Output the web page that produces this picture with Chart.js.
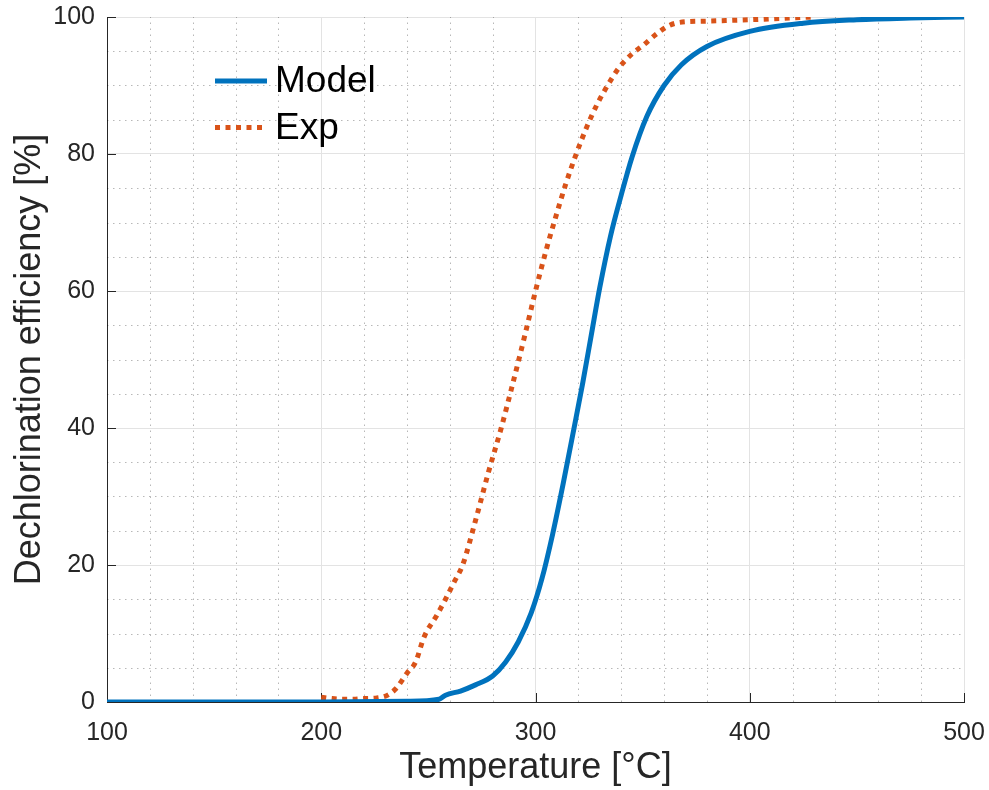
<!DOCTYPE html>
<html>
<head>
<meta charset="utf-8">
<script src="https://cdn.jsdelivr.net/npm/chart.js@4/dist/chart.umd.min.js"></script>
<style>
  html, body { margin: 0; padding: 0; background: #fff; }
  #wrap { width: 989px; height: 790px; }
</style>
</head>
<body>
<div id="wrap"><canvas id="chart-eff" width="989" height="790"></canvas></div>
<script>
// ── data ──
const modelTemp = [100, 150, 200, 240, 255, 258, 265, 272, 280, 286, 292, 298, 303, 308, 313, 318, 322, 326, 330, 335, 340, 345, 352, 360, 368, 380, 400, 425, 450, 475, 500];
const modelEff  = [0, 0, 0, 0.1, 0.4, 1.0, 1.6, 2.5, 3.8, 5.8, 8.8, 13, 18, 24.5, 32, 40, 46.5, 53.5, 60.5, 68, 74, 79.5, 85.5, 90, 93, 95.7, 97.9, 99.1, 99.6, 99.85, 100];

const expTemp = [200, 205, 210, 215, 220, 226, 231, 235, 240, 244, 248, 254, 258, 262, 266, 272, 278, 284, 289, 295, 300, 305, 310, 314, 319, 324, 329, 334, 339, 345, 350, 356, 362, 367, 380, 400, 415, 430];
const expEff  = [0.7, 0.5, 0.4, 0.4, 0.5, 0.6, 1.0, 2.0, 4.2, 5.8, 9.5, 12.7, 15, 17.5, 20, 26.5, 33.5, 40, 46, 53.5, 60, 66, 71.4, 75.5, 80, 84, 87.4, 90.2, 92.6, 94.6, 95.8, 97.4, 98.7, 99.2, 99.4, 99.6, 99.8, 100];

const seriesLabels = ['Model', 'Exp'];
const xTitle = 'Temperature [°C]';
const yTitle = 'Dechlorination efficiency [%]';

const FONT = '"Liberation Sans", Arial, Helvetica, sans-serif';
const AXIS_COLOR = '#262626';
const BLUE = '#0072BD';
const ORANGE = '#D95319';

function toPoints(xs, ys) {
  return xs.map((x, i) => ({ x: x, y: ys[i] }));
}

// dotted minor grid + inward tick marks, MATLAB style
const matlabGrid = {
  id: 'matlabGrid',
  beforeDatasetsDraw(chart) {
    const { ctx, chartArea: a, scales: { x, y } } = chart;
    ctx.save();
    ctx.strokeStyle = 'rgba(0,0,0,0.28)';
    ctx.lineWidth = 1;
    ctx.setLineDash([1.5, 4.5]);
    for (let v = x.min + 20; v < x.max; v += 20) {
      if (v % 100 === 0) continue;
      const px = Math.round(x.getPixelForValue(v)) + 0.5;
      ctx.beginPath(); ctx.moveTo(px, a.bottom); ctx.lineTo(px, a.top); ctx.stroke();
    }
    for (let v = y.min + 5; v < y.max; v += 5) {
      if (v % 20 === 0) continue;
      const py = Math.round(y.getPixelForValue(v)) + 0.5;
      ctx.beginPath(); ctx.moveTo(a.left, py); ctx.lineTo(a.right, py); ctx.stroke();
    }
    ctx.setLineDash([]);
    ctx.strokeStyle = AXIS_COLOR;
    for (let v = x.min; v <= x.max; v += 100) {
      const px = Math.round(x.getPixelForValue(v)) + 0.5;
      ctx.beginPath(); ctx.moveTo(px, a.bottom); ctx.lineTo(px, a.bottom - 9); ctx.stroke();
    }
    for (let v = y.min; v <= y.max; v += 20) {
      const py = Math.round(y.getPixelForValue(v)) + 0.5;
      ctx.beginPath(); ctx.moveTo(a.left, py); ctx.lineTo(a.left + 9, py); ctx.stroke();
    }
    ctx.restore();
  },
  afterDraw(chart) {
    // legend inside the axes, top-left
    const { ctx, chartArea: a } = chart;
    ctx.save();
    ctx.font = '37px ' + FONT;
    ctx.fillStyle = '#000';
    ctx.textBaseline = 'middle';
    chart.data.datasets.forEach((ds, i) => {
      const yy = a.top + 64 + i * 46.5;
      ctx.strokeStyle = ds.borderColor;
      ctx.lineWidth = 5;
      ctx.setLineDash(ds.borderDash || []);
      ctx.beginPath();
      ctx.moveTo(a.left + 108, yy);
      ctx.lineTo(a.left + 160, yy);
      ctx.stroke();
      ctx.setLineDash([]);
      ctx.fillText(ds.label, a.left + 168, yy + 1);
    });
    ctx.restore();
  }
};

new Chart(document.getElementById('chart-eff'), {
  type: 'line',
  data: {
    datasets: [
      {
        label: seriesLabels[0],
        data: toPoints(modelTemp, modelEff),
        borderColor: BLUE,
        borderWidth: 5,
        pointRadius: 0,
        cubicInterpolationMode: 'monotone',
        fill: false
      },
      {
        label: seriesLabels[1],
        data: toPoints(expTemp, expEff),
        borderColor: ORANGE,
        borderWidth: 5,
        borderDash: [5, 5.5],
        borderCapStyle: 'butt',
        pointRadius: 0,
        cubicInterpolationMode: 'monotone',
        fill: false
      }
    ]
  },
  options: {
    responsive: false,
    animation: false,
    layout: { padding: { left: 0, top: 17, right: 25, bottom: 0 } },
    plugins: {
      legend: { display: false },
      tooltip: { enabled: false }
    },
    scales: {
      x: {
        type: 'linear',
        min: 100,
        max: 500,
        afterFit(scale) {
          scale.height = 88;
          scale.paddingLeft = 0;
          scale.paddingRight = 0;
        },
        ticks: { stepSize: 100, autoSkip: false, padding: 16, color: AXIS_COLOR, font: { family: FONT, size: 25 } },
        grid: { color: '#e3e3e3', lineWidth: 1, drawTicks: false },
        border: { display: true, color: AXIS_COLOR, width: 1 },
        title: { display: true, text: xTitle, color: AXIS_COLOR, font: { family: FONT, size: 36 }, padding: { top: 0, bottom: 0 } }
      },
      y: {
        type: 'linear',
        min: 0,
        max: 100,
        afterFit(scale) {
          scale.width = 107;
          scale.paddingTop = 0;
          scale.paddingBottom = 0;
        },
        ticks: { stepSize: 20, autoSkip: false, padding: 12, color: AXIS_COLOR, font: { family: FONT, size: 25 } },
        grid: { color: '#e3e3e3', lineWidth: 1, drawTicks: false },
        border: { display: true, color: AXIS_COLOR, width: 1 },
        title: { display: true, text: yTitle, color: AXIS_COLOR, font: { family: FONT, size: 36 }, padding: { top: 8, bottom: 0 } }
      }
    }
  },
  plugins: [matlabGrid]
});
</script>
</body>
</html>
